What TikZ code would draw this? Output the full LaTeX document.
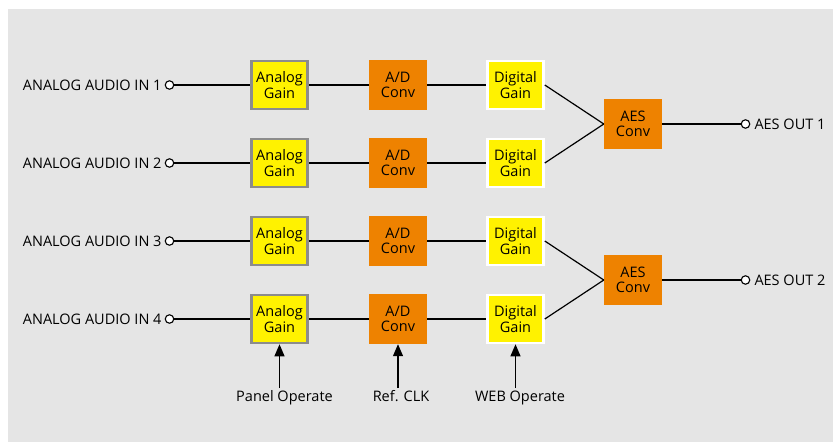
\documentclass[tikz,border=0pt]{standalone}
\usepackage{fontspec}
\setmainfont{Open Sans}
\usetikzlibrary{arrows.meta}
\definecolor{bg}{HTML}{E5E5E5}
\definecolor{ylw}{HTML}{FFF200}
\definecolor{org}{HTML}{EE8200}
\definecolor{brd}{HTML}{8C8C8C}
\begin{document}
\begin{tikzpicture}[x=1pt,y=-1pt,
  font=\fontsize{14.5}{15.5}\selectfont,
  analog/.style={draw=brd, line width=2.6pt, fill=ylw, minimum width=56pt, minimum height=48pt, align=center, inner sep=0pt},
  digital/.style={draw=white, line width=2.6pt, fill=ylw, minimum width=56pt, minimum height=48pt, align=center, inner sep=0pt},
  conv/.style={fill=org, minimum width=58pt, minimum height=50pt, align=center, inner sep=0pt},
  port/.style={circle, draw=black, fill=white, line width=1.1pt, minimum size=8.5pt, inner sep=0pt},
  wire/.style={line width=1.2pt, draw=black},
  ctrl/.style={line width=1.2pt, draw=black, -{Triangle[length=12pt,width=10pt]}},
  lbl/.style={inner sep=0pt}
]
\useasboundingbox (0,0) rectangle (838,442);
\fill[white] (0,0) rectangle (838,442);
\fill[bg] (8,9) rectangle (833,442);

% rows
\foreach \r/\y in {1/85,2/163,3/241,4/319}{
  \node[port] (in\r) at (169.5,\y) {};
  \node[lbl, anchor=east] (il\r) at ([xshift=-3pt]in\r.west) {ANALOG AUDIO IN \r};
  \node[analog] (a\r) at (279.5,\y) {Analog\\Gain};
  \node[conv] (c\r) at (398,\y) {A/D\\Conv};
  \node[digital] (g\r) at (515.5,\y) {Digital\\Gain};
  \draw[wire] (in\r.east) -- (a\r.west);
  \draw[wire] (a\r.east) -- (c\r.west);
  \draw[wire] (c\r.east) -- (g\r.west);
}

\node[conv] (e1) at (633,124) {AES\\Conv};
\node[conv] (e2) at (633,280) {AES\\Conv};
\draw[wire] (g1.east) -- (e1.west);
\draw[wire] (g2.east) -- (e1.west);
\draw[wire] (g3.east) -- (e2.west);
\draw[wire] (g4.east) -- (e2.west);

\node[port] (o1) at (745.5,124) {};
\node[port] (o2) at (745.5,280) {};
\draw[wire] (e1.east) -- (o1.west);
\draw[wire] (e2.east) -- (o2.west);
\node[lbl, anchor=west] (ol1) at ([xshift=4pt]o1.east) {AES OUT 1};
\node[lbl, anchor=west] (ol2) at ([xshift=4pt]o2.east) {AES OUT 2};

% control inputs
\coordinate (p1) at (279.5,388);
\coordinate (p2) at (398,388);
\coordinate (p3) at (515.5,388);
\draw[ctrl] (p1) -- (a4.south);
\draw[ctrl] (p2) -- (c4.south);
\draw[ctrl] (p3) -- (g4.south);
\node[lbl, anchor=base] (t1) at (284.5,401) {Panel Operate};
\node[lbl, anchor=base] (t2) at (401,401) {Ref. CLK};
\node[lbl, anchor=base] (t3) at (520,401) {WEB Operate};
\end{tikzpicture}
\end{document}
